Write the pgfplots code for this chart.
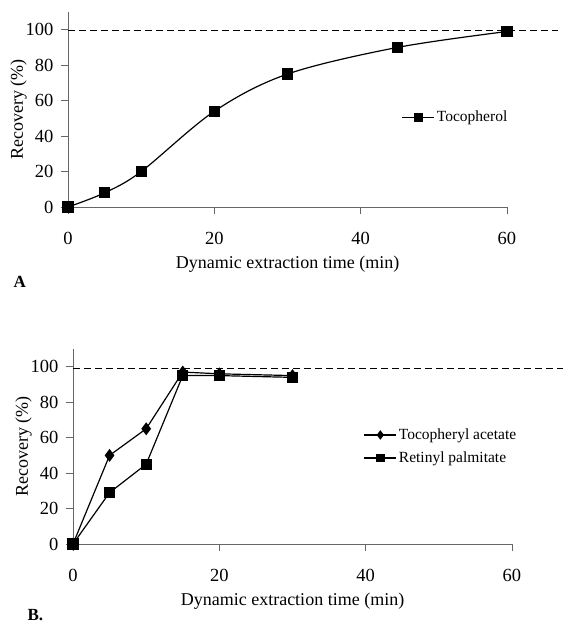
\documentclass[border=0pt]{standalone}
\usepackage{pgfplots}
\pgfplotsset{compat=1.18}
\usepackage{fontspec}
\setmainfont{Liberation Serif}
\begin{document}
\fontsize{16}{19}\selectfont
\begin{tikzpicture}
\useasboundingbox (0pt,0pt) rectangle (583pt,-625pt);
\pgfplotsset{
  panel/.style={
    scale only axis, width=439pt, height=195pt,
    xmin=0, xmax=60, ymin=0, ymax=110,
    axis x line=bottom, axis y line=left,
    axis line style={-, black!60, line width=0.6pt},
    every outer x axis line/.append style={-},
    every outer y axis line/.append style={-},
    xtick={0,20,40,60}, ytick={0,20,40,60,80,100},
    tick style={black!60, line width=0.6pt},
    major tick length=7pt,
    tick align=outside,
    xticklabel style={yshift=-13pt},
    yticklabel style={xshift=-2pt},
    /pgf/number format/assume math mode=true,
    every tick label/.append style={font=\fontsize{18.5}{22}\selectfont},
    label style={font=\fontsize{18}{21}\selectfont},
    xlabel={Dynamic extraction time (min)},
    ylabel={Recovery (\%)},
    xlabel style={yshift=0pt},
    ylabel style={yshift=-12pt},
    clip=false,
    legend style={draw=none, fill=none, font=\fontsize{15.5}{18.5}\selectfont, row sep=6pt,
      legend cell align=left},
    legend image code/.code={%
      \draw[mark repeat=2, mark phase=2, #1, mark size=3.8pt]
        plot coordinates {(0pt,0pt) (16pt,0pt) (32pt,0pt)};},
  }
}
\begin{axis}[panel, at={(68pt,-207pt)}, anchor=south west,
  legend style={at={(0.753,0.46)}, anchor=west}]
  \addplot[black, line width=1.2pt, smooth, tension=0.55, mark=square*, mark size=5pt, mark options={solid}]
    coordinates {(0,0) (5,8) (10,20) (20,54) (30,75) (45,90) (60,99)};
  \addlegendentry{Tocopherol}
  \addplot[black, line width=1.6pt, dash pattern=on 7pt off 4pt, forget plot]
    coordinates {(0,99.5) (67,99.5)};
\end{axis}
\begin{axis}[panel, at={(73pt,-544pt)}, anchor=south west,
  legend style={at={(0.655,0.50)}, anchor=west}]
  \addplot[black, line width=1.2pt, mark=diamond*, mark size=5.5pt]
    coordinates {(0,0) (5,50) (10,65) (15,97) (20,96) (30,95)};
  \addlegendentry{Tocopheryl acetate}
  \addplot[black, line width=1.2pt, mark=square*, mark size=5pt]
    coordinates {(0,0) (5,29) (10,45) (15,95) (20,95) (30,94)};
  \addlegendentry{Retinyl palmitate}
  \addplot[black, line width=1.6pt, dash pattern=on 7pt off 4pt, forget plot]
    coordinates {(0,99) (67,99)};
\end{axis}
\node[font=\bfseries\fontsize{17}{20}\selectfont, anchor=west] at (8pt,-282pt) {A};
\node[font=\bfseries\fontsize{17}{20}\selectfont, anchor=west] at (22pt,-615pt) {B.};
\end{tikzpicture}
\end{document}
